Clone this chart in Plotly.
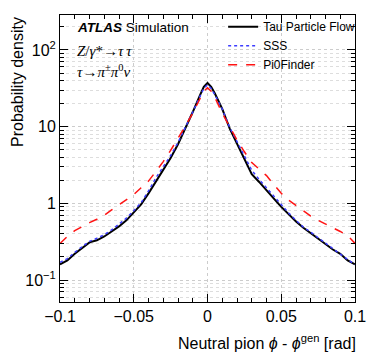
import plotly.graph_objects as go

# bin centres of the phi residual [rad]
phi = [-0.1, -0.095, -0.09, -0.085, -0.08, -0.075, -0.07, -0.065, -0.06, -0.055,
       -0.05, -0.045, -0.04, -0.035, -0.03, -0.025, -0.02, -0.015, -0.01, -0.005,
       -0.0025, 0.0, 0.0025, 0.005, 0.01, 0.015, 0.02, 0.025, 0.03, 0.035,
       0.04, 0.045, 0.05, 0.055, 0.06, 0.065, 0.07, 0.075, 0.08, 0.085,
       0.09, 0.095, 0.1]

tau_pflow = [0.160, 0.18, 0.22, 0.26, 0.31, 0.33, 0.37, 0.43, 0.50, 0.60,
             0.76, 0.97, 1.35, 1.95, 2.7, 3.9, 5.9, 9.4, 15.5, 26,
             33, 37, 33, 27, 17, 9.5, 6.0, 3.7, 2.4, 1.9,
             1.5, 1.15, 0.90, 0.72, 0.58, 0.48, 0.41, 0.35, 0.30, 0.25,
             0.22, 0.18, 0.16]

sss = [0.17, 0.19, 0.23, 0.27, 0.32, 0.35, 0.39, 0.45, 0.53, 0.64,
       0.80, 1.02, 1.45, 2.15, 3.0, 4.2, 6.2, 9.6, 15.5, 25,
       31.5, 35, 31.5, 26, 17, 9.8, 6.3, 4.0, 2.7, 2.05,
       1.6, 1.22, 0.95, 0.75, 0.60, 0.49, 0.42, 0.355, 0.30, 0.255,
       0.22, 0.185, 0.16]

pi0finder = [0.30, 0.37, 0.44, 0.50, 0.56, 0.62, 0.70, 0.82, 0.95, 1.1,
             1.3, 1.6, 1.95, 2.6, 3.5, 4.9, 7.0, 10.2, 15, 24,
             29, 32, 29, 24, 15, 10, 6.7, 4.7, 3.4, 2.8,
             2.3, 1.75, 1.35, 1.1, 0.94, 0.80, 0.68, 0.60, 0.53, 0.48,
             0.43, 0.38, 0.30]

font = "Liberation Sans, Arial, sans-serif"
serif = "Liberation Serif, Times New Roman, serif"

fig = go.Figure()
fig.add_trace(go.Scatter(x=phi, y=tau_pflow, mode="lines", name="Tau Particle Flow",
                         line=dict(color="black", width=2)))
fig.add_trace(go.Scatter(x=phi, y=sss, mode="lines", name="SSS",
                         line=dict(color="rgb(60,60,255)", width=1.5, dash="dot")))
fig.add_trace(go.Scatter(x=phi, y=pi0finder, mode="lines", name="Pi0Finder",
                         line=dict(color="rgb(255,20,20)", width=1.5, dash="dash")))

minor_y = [m * 10.0 ** e for e in range(-2, 3) for m in range(2, 10)]

fig.update_layout(
    width=374, height=361,
    margin=dict(l=60, r=19, t=15, b=59, autoexpand=False),
    paper_bgcolor="white", plot_bgcolor="white",
    font=dict(family=font, size=16, color="black"),
    showlegend=True,
    legend=dict(x=0.553, y=1.01, xanchor="left", yanchor="top",
                bgcolor="rgba(0,0,0,0)", font=dict(size=12),
                tracegroupgap=0, itemwidth=30),
    xaxis=dict(range=[-0.1, 0.1], tickvals=[-0.1, -0.05, 0, 0.05, 0.1],
               ticktext=["\u22120.1", "\u22120.05", "0", "0.05", "0.1"],
               automargin=False,
               ticks="inside", ticklen=8, tickcolor="black", mirror="allticks",
               showline=True, linecolor="black", linewidth=1,
               showgrid=True, gridcolor="#cccccc", griddash="dot", gridwidth=1,
               zeroline=False,
               minor=dict(dtick=0.01, ticks="inside", ticklen=4, tickcolor="black",
                          showgrid=False)),
    yaxis=dict(type="log", range=[-1.286, 2.455],
               tickvals=[0.1, 1, 10, 100],
               ticktext=["10<sup>\u22121</sup>", "1", "10", "10<sup>2</sup>"],
               automargin=False,
               ticks="inside", ticklen=8, tickcolor="black", mirror="allticks",
               showline=True, linecolor="black", linewidth=1,
               showgrid=True, gridcolor="#cccccc", griddash="dot", gridwidth=1,
               zeroline=False,
               minor=dict(tickmode="array", tickvals=minor_y, ticks="inside", ticklen=4,
                          tickcolor="black", showgrid=True, gridcolor="#dddddd",
                          griddash="dot")),
    annotations=[
        dict(text="Neutral pion <i>\u03d5</i> - <i>\u03d5</i><sup>gen</sup> [rad]",
             xref="paper", yref="paper", x=1.01, y=-0.139, xanchor="right", yanchor="middle",
             showarrow=False, font=dict(size=16)),
        dict(text="Probability density", xref="paper", yref="paper",
             x=-0.146, y=1.0, xanchor="center", yanchor="top", textangle=-90,
             showarrow=False, font=dict(size=16)),
        dict(text="<b><i>ATLAS</i></b> Simulation", xref="paper", yref="paper",
             x=0.05, y=0.955, xanchor="left", yanchor="middle",
             showarrow=False, font=dict(size=13.5)),
        dict(text="<i>Z</i>/<i>\u03b3</i>*\u2192<i>\u03c4\u2009\u03c4</i>", xref="paper", yref="paper",
             x=0.05, y=0.875, xanchor="left", yanchor="middle",
             showarrow=False, font=dict(family=serif, size=15)),
        dict(text="<i>\u03c4</i>\u2192<i>\u03c0</i><sup>\u00b1</sup><i>\u03c0</i><sup>0</sup><i>\u03bd</i>",
             xref="paper", yref="paper",
             x=0.05, y=0.805, xanchor="left", yanchor="middle",
             showarrow=False, font=dict(family=serif, size=15)),
    ],
)

# the page body has a default 8px margin; drop it so the figure fills the window
fig.write_html("out.html", config={"displayModeBar": False},
               post_script="document.body.style.margin='0px';")
